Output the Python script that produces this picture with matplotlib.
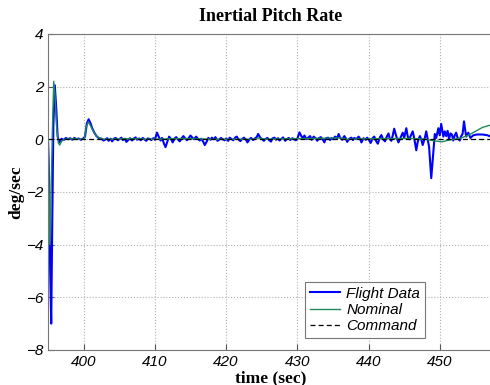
import matplotlib.pyplot as plt

# flight data (blue)
t_fd = [395.0, 395.15, 395.3, 395.45, 395.6, 395.75, 395.95, 396.15, 396.35, 396.6,
        396.9, 397.2, 397.5, 397.8, 398.1, 398.4, 398.7, 399.0, 399.3, 399.6,
        399.9, 400.2, 400.45, 400.7, 400.95, 401.2, 401.5, 401.8, 402.1, 402.5,
        402.8, 403.0, 403.3, 403.5, 403.8, 404.0, 404.3, 404.5, 404.8, 405.0,
        405.3, 405.5, 405.8, 406.0, 406.3, 406.5, 406.8, 407.0, 407.3, 407.5,
        407.8, 408.0, 408.3, 408.5, 408.8, 409.0, 409.3, 409.5, 409.8, 410.0,
        410.3, 410.5, 410.8, 411.0, 411.3, 411.5, 411.8, 412.0, 412.3, 412.5,
        412.8, 413.0, 413.3, 413.5, 413.8, 414.0, 414.3, 414.5, 414.8, 415.0,
        415.3, 415.5, 415.8, 416.0, 416.3, 416.5, 416.8, 417.0, 417.3, 417.5,
        417.8, 418.0, 418.3, 418.5, 418.8, 419.0, 419.3, 419.5, 419.8, 420.0,
        420.3, 420.5, 420.8, 421.0, 421.3, 421.5, 421.8, 422.0, 422.3, 422.5,
        422.8, 423.0, 423.3, 423.5, 423.8, 424.0, 424.3, 424.5, 424.8, 425.0,
        425.3, 425.5, 425.8, 426.0, 426.3, 426.5, 426.8, 427.0, 427.3, 427.5,
        427.8, 428.0, 428.3, 428.5, 428.8, 429.0, 429.3, 429.5, 429.8, 430.0,
        430.3, 430.6, 430.8, 431.0, 431.3, 431.6, 431.8, 432.0, 432.3, 432.6,
        432.8, 433.0, 433.3, 433.6, 433.8, 434.0, 434.3, 434.6, 434.8, 435.0,
        435.3, 435.6, 435.8, 436.0, 436.3, 436.6, 436.8, 437.0, 437.3, 437.6,
        437.8, 438.0, 438.3, 438.6, 438.8, 439.0, 439.3, 439.6, 439.8, 440.0,
        440.3, 440.6, 440.8, 441.0, 441.3, 441.6, 441.8, 442.0, 442.3, 442.6,
        442.8, 443.0, 443.2, 443.4, 443.6, 443.8, 444.0, 444.2, 444.4, 444.6,
        444.8, 445.0, 445.3, 445.5, 445.7, 446.0, 446.2, 446.4, 446.7, 446.9,
        447.2, 447.4, 447.6, 447.9, 448.1, 448.3, 448.5, 448.8, 449.1, 449.3,
        449.5, 449.8, 450.0, 450.2, 450.5, 450.7, 450.9, 451.1, 451.3, 451.5,
        451.7, 451.9, 452.1, 452.3, 452.5, 452.8, 453.0, 453.2, 453.4, 453.7,
        454.0, 454.3, 454.7, 455.2, 456.0, 456.7, 457.6]
r_fd = [0.0, -1.5, -5.0, -7.0, -3.0, 0.5, 2.05, 1.2, 0.1, -0.12,
        0.02, -0.03, 0.05, 0.0, 0.04, -0.02, 0.05, 0.0, 0.03, -0.02,
        0.02, 0.1, 0.6, 0.76, 0.62, 0.42, 0.25, 0.12, 0.05, 0.02,
        -0.05, -0.02, 0.04, -0.06, 0.02, -0.08, 0.03, 0.05, -0.04, 0.0,
        0.06, -0.03, 0.02, -0.1, -0.02, 0.04, -0.05, 0.02, 0.07, -0.02,
        0.03, -0.04, 0.05, 0.0, -0.06, 0.03, 0.01, -0.03, 0.04, -0.02,
        0.25, 0.12, -0.05, 0.05, -0.18, -0.3, -0.05, 0.1, 0.0, -0.12,
        0.04, 0.08, -0.03, -0.08, 0.05, 0.12, 0.02, -0.04, 0.06, 0.14,
        0.05, 0.0, 0.1, 0.03, -0.05, 0.02, -0.1, -0.22, -0.08, 0.05,
        -0.02, 0.06, 0.0, 0.08, -0.06, -0.02, 0.05, 0.0, -0.04, 0.03,
        -0.06, 0.06, 0.0, -0.04, 0.07, 0.1, -0.03, -0.07, 0.02, 0.06,
        -0.02, -0.12, 0.0, 0.05, -0.03, 0.02, 0.08, 0.2, 0.06, 0.02,
        -0.06, 0.0, 0.05, -0.02, -0.09, 0.03, 0.06, -0.02, 0.04, -0.05,
        0.02, 0.07, -0.06, 0.0, 0.05, -0.03, 0.04, 0.0, -0.04, 0.02,
        0.26, 0.1, 0.05, 0.14, 0.0, 0.08, 0.12, -0.02, 0.1, 0.03,
        -0.06, 0.04, 0.08, -0.02, -0.12, 0.03, 0.06, -0.03, 0.05, 0.0,
        0.1, 0.04, 0.2, 0.06, -0.02, 0.12, 0.04, -0.1, 0.02, 0.06,
        -0.03, 0.05, 0.0, 0.1, 0.02, -0.12, 0.04, -0.02, 0.06, 0.0,
        -0.14, 0.05, 0.1, -0.04, -0.17, 0.08, 0.16, 0.02, -0.08, 0.12,
        0.22, 0.0, -0.06, 0.15, 0.4, 0.2, 0.02, -0.12, 0.0, 0.12,
        0.25, 0.05, 0.42, 0.1, 0.0, 0.18, 0.3, 0.05, -0.42, -0.1,
        0.12, 0.0, -0.22, 0.05, 0.3, 0.0, -0.3, -1.48, -0.5, 0.2,
        0.05, 0.42, 0.15, 0.58, 0.1, 0.3, 0.12, 0.32, 0.0, 0.22,
        0.18, -0.05, 0.15, 0.25, 0.05, -0.05, 0.12, 0.2, 0.68, 0.1,
        0.25, 0.05, 0.15, 0.18, 0.18, 0.15, 0.05]

# nominal (green)
t_nom = [395.0, 395.1, 395.25, 395.4, 395.6, 395.8, 396.0, 396.2, 396.45, 396.65,
         396.9, 397.3, 398.5, 400.1, 400.35, 400.65, 401.0, 401.4, 401.8, 402.3,
         403.0, 406.0, 410.0, 414.0, 418.0, 424.0, 424.5, 425.5, 430.0, 436.0,
         437.0, 441.0, 446.0, 448.0, 449.0, 450.3, 451.0, 452.0, 453.0, 454.0,
         455.0, 456.0, 457.0, 457.6]
r_nom = [0.0, -1.0, -4.0, -2.5, 0.2, 2.2, 1.6, 0.5, -0.15, -0.22,
         -0.08, 0.0, 0.02, 0.0, 0.45, 0.66, 0.5, 0.28, 0.12, 0.04,
         0.0, 0.02, 0.0, 0.03, 0.0, 0.0, 0.05, 0.0, 0.02, 0.05,
         0.0, 0.02, 0.03, 0.0, -0.05, -0.1, -0.05, 0.0, 0.05, 0.15,
         0.3, 0.45, 0.53, 0.55]

# command
t_cmd = [395.0, 457.6]
r_cmd = [0.0, 0.0]

plt.rcParams['font.family'] = 'Liberation Sans'
fig = plt.figure(figsize=(4.9, 3.85), dpi=100)
ax = fig.add_axes([0.098, 0.091, 0.91, 0.821])

ax.plot(t_fd, r_fd, color='#0000ff', lw=1.5, label='Flight Data')
ax.plot(t_nom, r_nom, color='#1f8a5a', lw=1.0, label='Nominal')
ax.plot(t_cmd, r_cmd, color='black', lw=0.9, ls='--', dashes=(4, 2.5), label='Command')

ax.set_xlim(395.0, 457.6)
ax.set_ylim(-8, 4)
ax.set_xticks([400, 410, 420, 430, 440, 450])
ax.set_yticks([-8, -6, -4, -2, 0, 2, 4])
ax.grid(True, ls=':', color='#b0b0b0', lw=0.8)
ax.tick_params(direction='in', colors='#555555', labelcolor='black', labelsize=11, length=4)
for lab in ax.get_xticklabels() + ax.get_yticklabels():
    lab.set_fontstyle('italic')
for s in ax.spines.values():
    s.set_color('#777777')
ax.spines['right'].set_visible(False)

ax.set_title('Inertial Pitch Rate', family='Liberation Serif', fontweight='bold', fontsize=13, pad=9)
ax.set_xlabel('time (sec)', family='Liberation Serif', fontweight='bold', fontsize=12.5, labelpad=1)
ax.set_ylabel('deg/sec', family='Liberation Serif', fontweight='bold', fontsize=12.5, labelpad=1)

leg = ax.legend(loc='lower right', bbox_to_anchor=(0.845, 0.038), borderaxespad=0,
                prop={'style': 'italic', 'size': 11},
                fancybox=False, edgecolor='#555555', handlelength=2.0, borderpad=0.3,
                labelspacing=0.15, handletextpad=0.4)
leg.get_frame().set_linewidth(0.8)

fig.savefig('out.png', dpi=100)
